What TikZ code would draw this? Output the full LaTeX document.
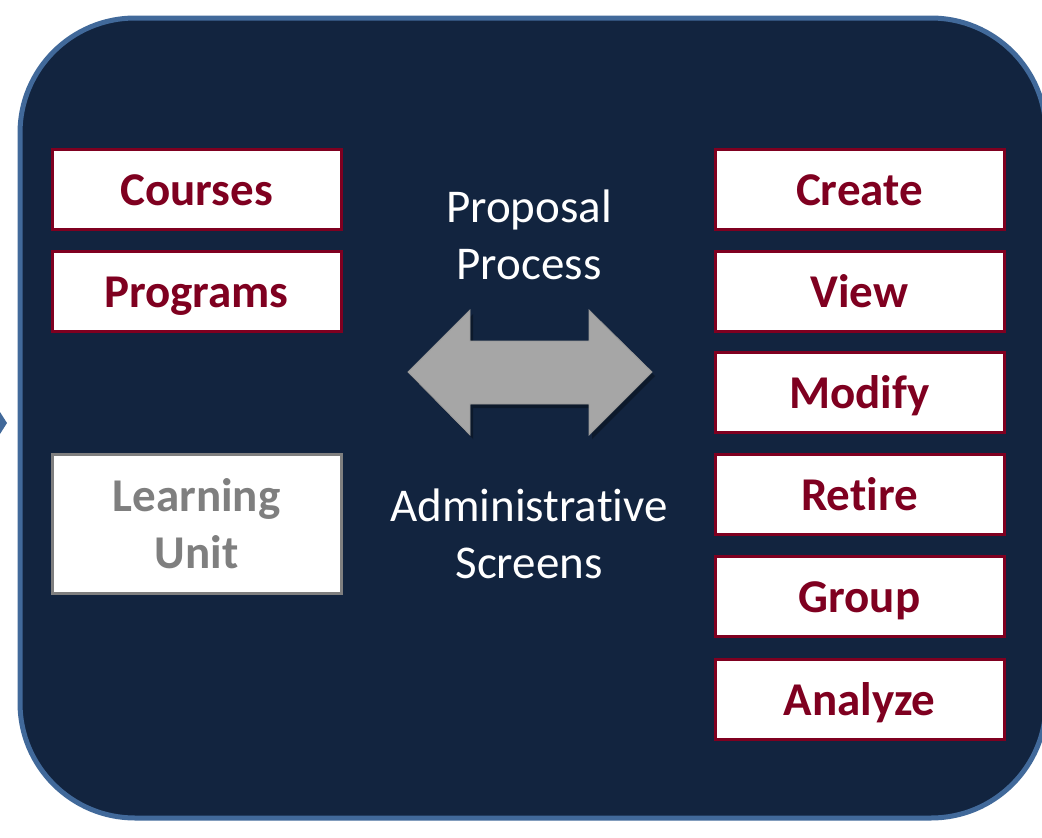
\documentclass[tikz,border=0pt]{standalone}
\usepackage{fontspec}
\setmainfont[Ligatures={NoCommon}]{Carlito}
\usetikzlibrary{shadows}
\definecolor{panelfill}{HTML}{12243F}
\definecolor{panelline}{HTML}{41699A}
\definecolor{wine}{HTML}{7F0020}
\definecolor{greytext}{HTML}{7F7F7F}
\definecolor{arrowgrey}{HTML}{A6A6A6}
\tikzset{
  itembox/.style={draw=wine, line width=3pt, fill=white, text=wine,
    minimum width=289pt, minimum height=80pt, inner sep=0pt,
    text height=42pt, text depth=10pt,
    font=\fontsize{47}{57}\selectfont\bfseries},
  mutedbox/.style={draw=greytext, line width=3pt, fill=white, text=greytext,
    minimum width=289pt, minimum height=139pt, inner sep=0pt, align=center,
    font=\fontsize{47}{57}\selectfont\bfseries},
  caption/.style={text=white, align=center, font=\fontsize{47}{57}\selectfont}
}
\begin{document}
\begin{tikzpicture}[x=1pt,y=-1pt]
\useasboundingbox (0,0) rectangle (1042,838);
% panel
\draw[panelline, line width=5pt, fill=panelfill, rounded corners=115pt]
  (20,18) rectangle (1046,818);
% tip of incoming arrow
\fill[panelline] (0,412) -- (7,423) -- (0,434) -- cycle;
% left column
\node[itembox] (courses) at (196.5,189) {Courses};
\node[itembox] (programs) at (196.5,291) {Programs};
\node[mutedbox] (unit) at (196.5,524) {Learning\\Unit};
% right column
\node[itembox] (create) at (859.5,189) {Create};
\node[itembox] (view) at (859.5,291) {View};
\node[itembox] (modify) at (859.5,392) {Modify};
\node[itembox] (retire) at (859.5,494) {Retire};
\node[itembox] (group) at (859.5,596) {Group};
\node[itembox] (analyze) at (859.5,699) {Analyze};
% centre captions
\node[caption] (proposal) at (529,235) {Proposal\\Process};
\node[caption] (admin) at (529,534) {Administrative\\Screens};
% double arrow
\draw[draw=gray!80, line width=0.8pt, fill=arrowgrey,
  drop shadow={shadow xshift=3pt, shadow yshift=-4pt, opacity=0.3, fill=black}]
  (408,372) -- (470,310) -- (470,341) -- (589,341) -- (589,310) -- (652,372)
  -- (589,435) -- (589,404) -- (470,404) -- (470,435) -- cycle;
\end{tikzpicture}
\end{document}
